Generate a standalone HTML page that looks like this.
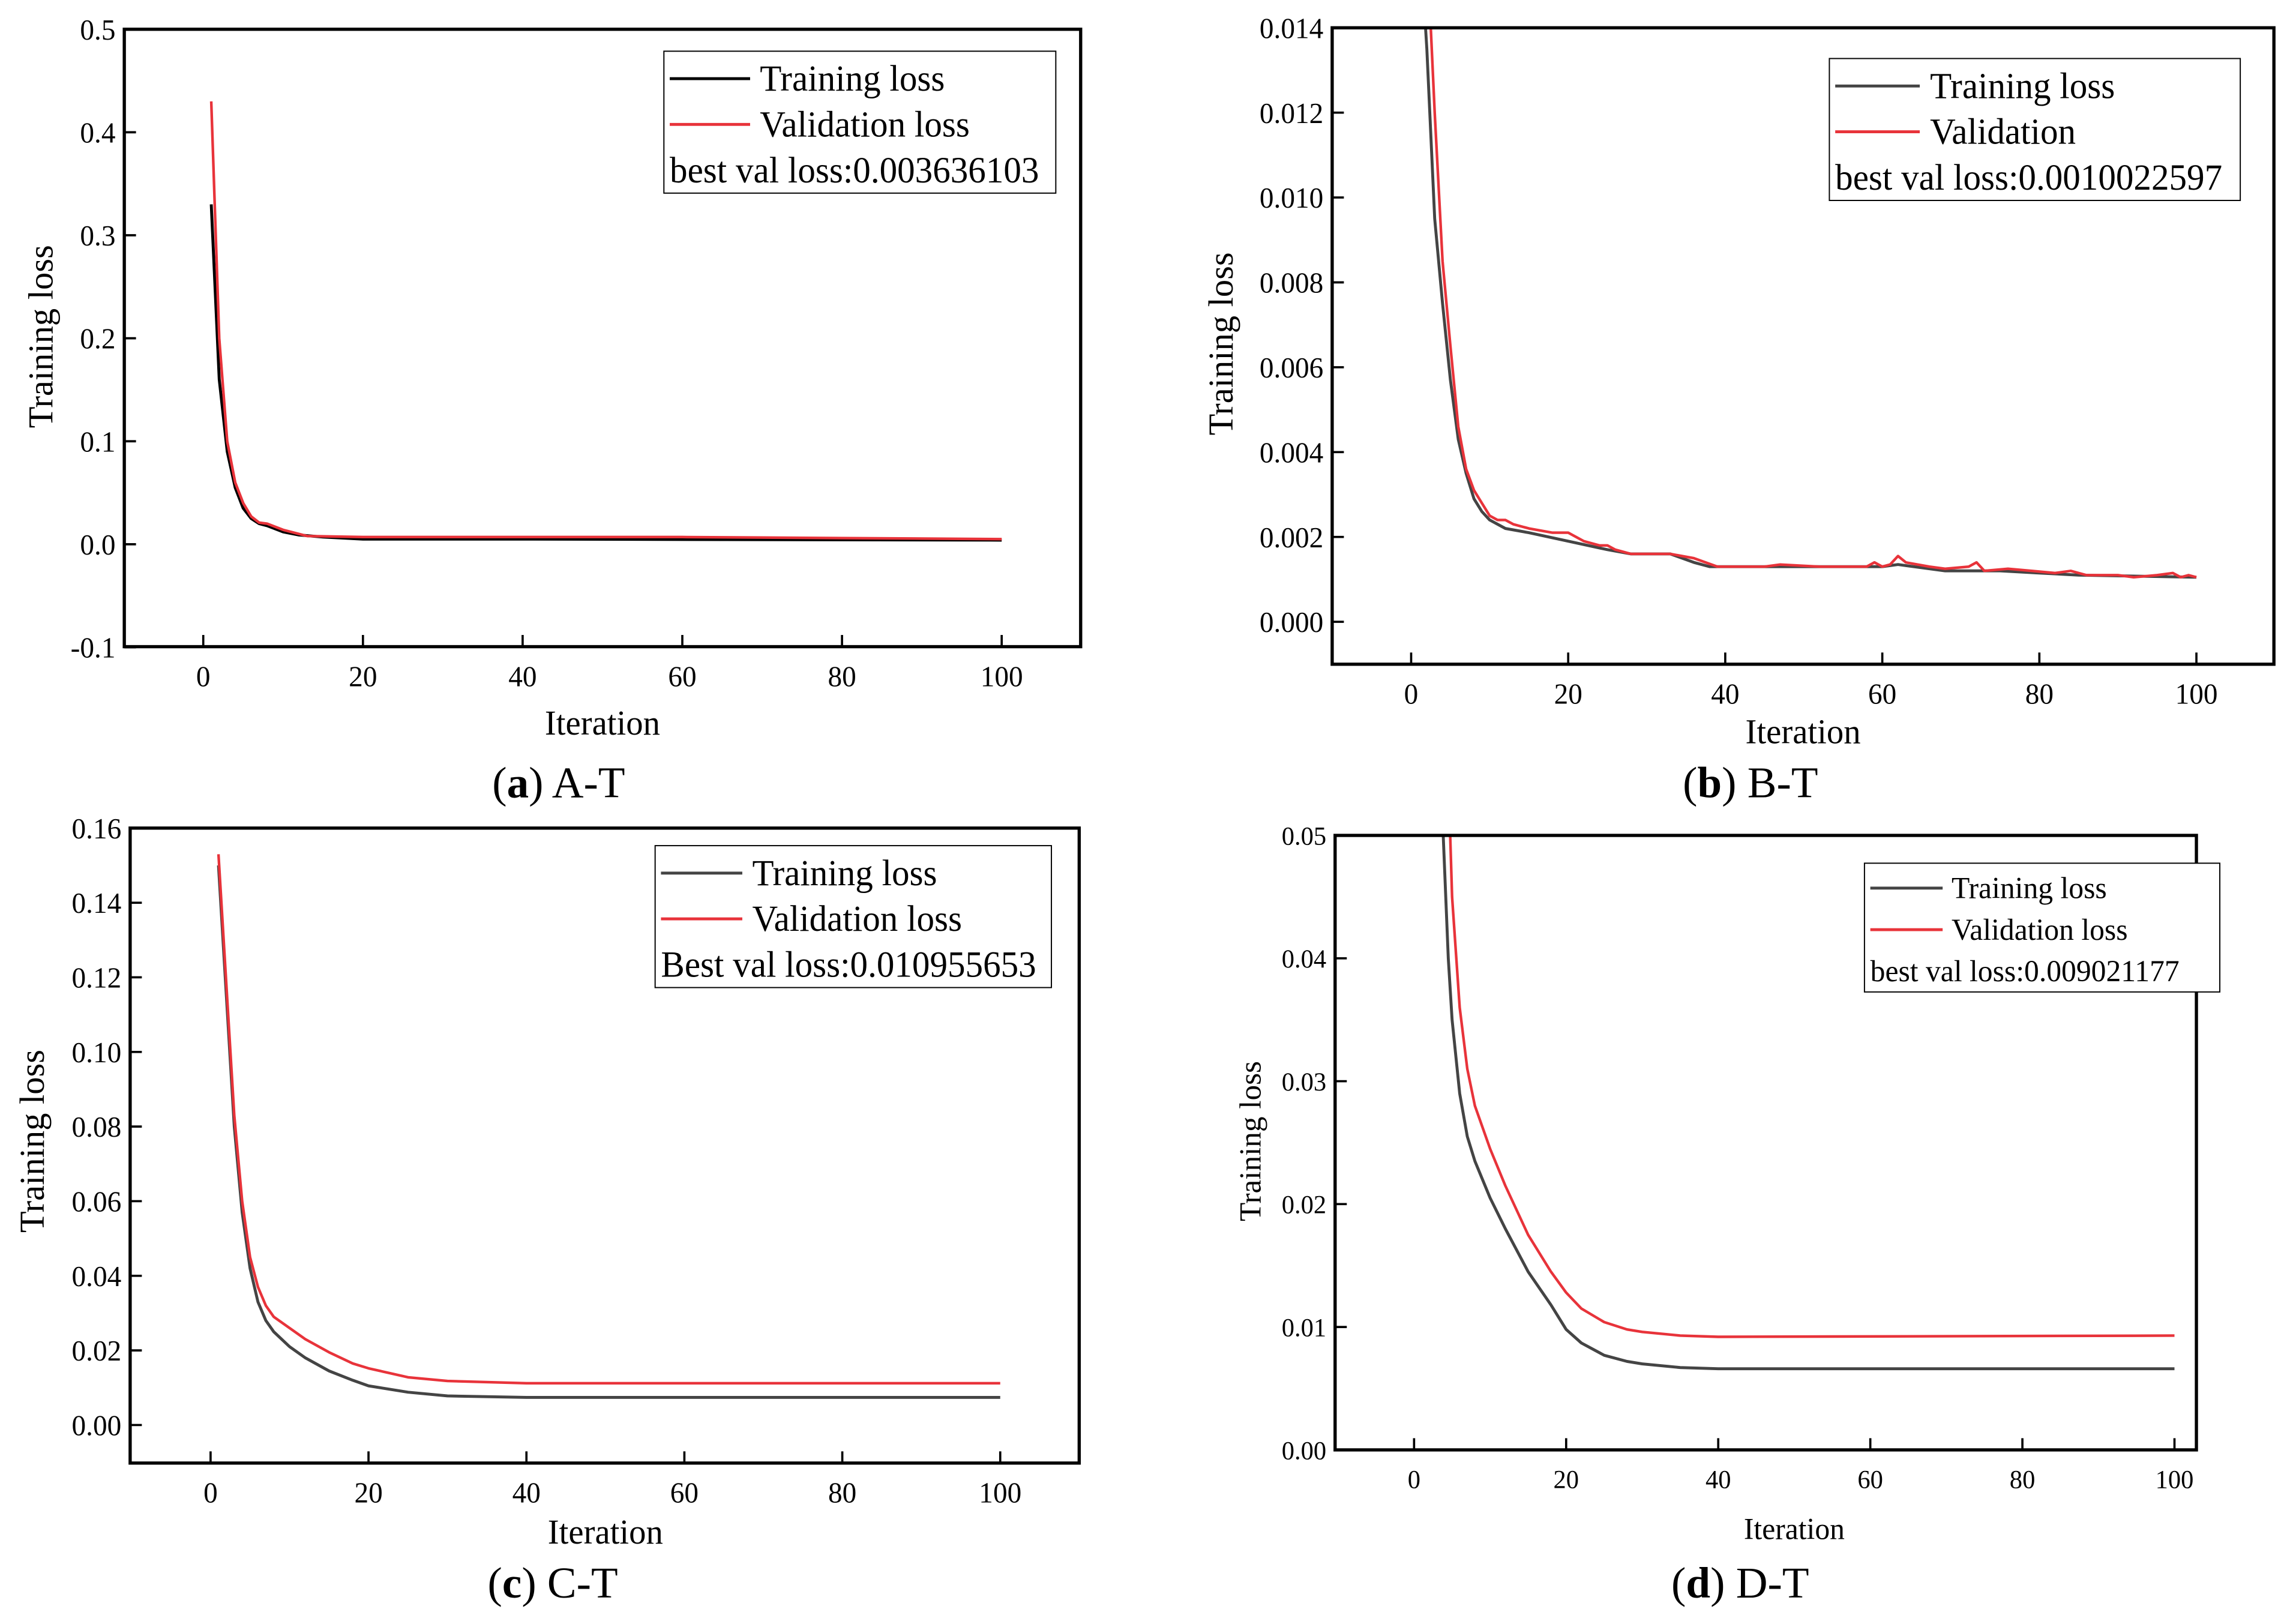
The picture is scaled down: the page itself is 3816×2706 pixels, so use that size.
<!DOCTYPE html>
<html><head><meta charset="utf-8"><style>
html,body{margin:0;padding:0;background:#fff;}
svg{display:block;}
text{font-family:"Liberation Serif",serif;fill:#000;}
</style></head><body>
<svg id="fig" width="3816" height="2706" viewBox="0 0 1566 1110" preserveAspectRatio="none" xmlns="http://www.w3.org/2000/svg"></svg>
<script>
// Panel A data
const aTrainX=[1,2,3,4,5,6,7,8,9,10,12,15,20,40,100];
const aTrainY=[0.33,0.16,0.09,0.055,0.035,0.025,0.02,0.018,0.015,0.012,0.009,0.007,0.005,0.005,0.004];
const aValX=[1,2,3,4,5,6,7,8,10,13,20,60,100];
const aValY=[0.43,0.2,0.1,0.06,0.04,0.027,0.021,0.02,0.014,0.008,0.007,0.007,0.005];
const aYTicks=[-0.1,0,0.1,0.2,0.3,0.4,0.5];
const aYLabels=["-0.1","0.0","0.1","0.2","0.3","0.4","0.5"];
// Panel B data
const bTrainX=[1,2,3,4,5,6,7,8,9,10,12,15,20,25,28,33,36,38,45,55,60,62,68,75,80,85,100];
const bTrainY=[0.0165,0.0135,0.0095,0.0075,0.0057,0.0043,0.0035,0.0029,0.0026,0.0024,0.0022,0.0021,0.0019,0.0017,0.0016,0.0016,0.0014,0.0013,0.0013,0.0013,0.0013,0.00135,0.0012,0.0012,0.00115,0.0011,0.00105];
const bValX=[2,3,4,5,6,7,8,9,10,11,12,13,15,18,20,21,22,24,25,26,28,33,36,39,45,47,52,56,58,59,60,61,62,63,66,68,71,72,73,76,79,82,84,86,90,92,95,97,98,99,100];
const bValY=[0.016,0.012,0.0085,0.0065,0.0046,0.0036,0.0031,0.0028,0.0025,0.0024,0.0024,0.0023,0.0022,0.0021,0.0021,0.002,0.0019,0.0018,0.0018,0.0017,0.0016,0.0016,0.0015,0.0013,0.0013,0.00135,0.0013,0.0013,0.0013,0.0014,0.0013,0.00135,0.00155,0.0014,0.0013,0.00125,0.0013,0.0014,0.0012,0.00125,0.0012,0.00115,0.0012,0.0011,0.0011,0.00105,0.0011,0.00115,0.00105,0.0011,0.00105];
const bYTicks=[0,0.002,0.004,0.006,0.008,0.010,0.012,0.014];
const bYLabels=["0.000","0.002","0.004","0.006","0.008","0.010","0.012","0.014"];
// Panel C data
const cTrainX=[1,2,3,4,5,6,7,8,10,12,15,18,20,25,30,40,100];
const cTrainY=[0.15,0.115,0.08,0.057,0.042,0.033,0.028,0.025,0.021,0.018,0.0145,0.012,0.0105,0.0088,0.0078,0.0074,0.0074];
const cValX=[1,2,3,4,5,6,7,8,10,12,15,18,20,25,30,40,100];
const cValY=[0.153,0.118,0.083,0.06,0.045,0.037,0.032,0.029,0.026,0.023,0.0195,0.0165,0.0152,0.0128,0.0118,0.0112,0.0112];
const cYTicks=[0,0.02,0.04,0.06,0.08,0.10,0.12,0.14,0.16];
const cYLabels=["0.00","0.02","0.04","0.06","0.08","0.10","0.12","0.14","0.16"];
// Panel D data
const dTrainX=[3.5,4.5,5,6,7,8,10,12,15,18,20,22,25,28,30,35,40,100];
const dTrainY=[0.055,0.04,0.035,0.029,0.0255,0.0235,0.0205,0.018,0.0145,0.0118,0.0098,0.0087,0.0077,0.0072,0.007,0.0067,0.0066,0.0066];
const dValX=[4.5,5,6,7,8,10,12,15,18,20,22,25,28,30,35,40,100];
const dValY=[0.055,0.045,0.036,0.031,0.028,0.0245,0.0215,0.0175,0.0145,0.0128,0.0115,0.0104,0.0098,0.0096,0.0093,0.0092,0.0093];
const dYTicks=[0,0.01,0.02,0.03,0.04,0.05];
const dYLabels=["0.00","0.01","0.02","0.03","0.04","0.05"];
const xTicks=[0,20,40,60,80,100];
const xLabels=["0","20","40","60","80","100"];

const NS="http://www.w3.org/2000/svg";
const svg=document.getElementById('fig');
function mk(tag,attrs,parent){const e=document.createElementNS(NS,tag);for(const k in attrs)e.setAttribute(k,attrs[k]);(parent||svg).appendChild(e);return e;}
function txt(parent,x,y,s,size,anchor,sx,rot){
  const g=mk('g',{transform:`translate(${x},${y})`+(rot?` rotate(${rot})`:'')+` scale(${sx||0.97},1)`},parent);
  const t=mk('text',{x:0,y:0,'font-size':size,'text-anchor':anchor||'start'},g);
  t.textContent=s;return t;}

function panel(cfg){
  const g=mk('g',{});
  
  
  const {L,R,T,B,x0,x100,yv0,yp0,yv1,yp1}=cfg;
  const X=v=>x0+(x100-x0)*v/100;
  const Y=v=>yp0+(yp1-yp0)*(v-yv0)/(yv1-yv0);
  const clip=mk('clipPath',{id:'clip'+cfg.id},g);
  mk('rect',{x:L,y:T,width:R-L,height:B-T},clip);
  function line(xs,ys,color,name,w){
    const p=mk('polyline',{points:xs.map((x,i)=>X(x).toFixed(2)+','+Y(ys[i]).toFixed(2)).join(' '),fill:'none',stroke:color,'stroke-width':w,'stroke-linejoin':'round','clip-path':`url(#clip${cfg.id})`},g);
    
    
  }
  line(cfg.tx,cfg.ty,cfg.tc,'training-loss-line',2);
  line(cfg.vx,cfg.vy,'#e8333a','validation-loss-line',1.8);
  const fr=mk('rect',{x:L,y:T,width:R-L,height:B-T,fill:'none',stroke:'#000','stroke-width':2.2},g);
  
  
  xTicks.forEach((v,i)=>{
    mk('line',{x1:X(v),x2:X(v),y1:B,y2:B-8,stroke:'#000','stroke-width':1.5},g);
    const t=txt(g,X(v),cfg.xly,xLabels[i],cfg.tf,'middle');
    
    
  });
  cfg.yt.forEach((v,i)=>{
    mk('line',{x1:L,x2:L+8,y1:Y(v),y2:Y(v),stroke:'#000','stroke-width':1.5},g);
    const t=txt(g,L-6,Y(v)+cfg.tf*0.35,cfg.yl[i],cfg.tf,'end');
    
    
  });
  const xt=txt(g,cfg.xtx,cfg.xty,'Iteration',cfg.af,'middle');
  
  
  const yt=txt(g,cfg.ytx,cfg.yty,'Training loss',cfg.af,'middle',1.0,-90);
  
  
  const lg=mk('g',{},g);
  
  
  const [lx,ly,lw,lh]=cfg.leg;
  mk('rect',{x:lx,y:ly,width:lw,height:lh,fill:'#fff',stroke:'#000','stroke-width':0.8},lg);
  const rh=lh/3.1;
  mk('line',{x1:lx+4,x2:lx+lw*0.22,y1:ly+rh*0.6,y2:ly+rh*0.6,stroke:cfg.tc,'stroke-width':2},lg);
  mk('line',{x1:lx+4,x2:lx+lw*0.22,y1:ly+rh*1.6,y2:ly+rh*1.6,stroke:'#e8333a','stroke-width':2},lg);
  const e1=txt(lg,lx+lw*0.245,ly+rh*0.6+cfg.lf*0.33,'Training loss',cfg.lf,'start');
  
  
  const e2=txt(lg,lx+lw*0.245,ly+rh*1.6+cfg.lf*0.33,cfg.vname,cfg.lf,'start');
  
  
  const e3=txt(lg,lx+4,ly+rh*2.6+cfg.lf*0.33,cfg.best,cfg.lf,'start');
  
  
  const cg=mk('g',{transform:`translate(${cfg.capx},${cfg.capy}) scale(1,1)`},g);
  const cap=mk('text',{x:0,y:0,'font-size':30,'text-anchor':'middle'},cg);
  
  
  cap.innerHTML=`(<tspan font-weight="bold">${cfg.id}</tspan>) ${cfg.cap}`;
}

panel({id:'a',cap:'A-T',L:85,R:739,T:20,B:442,x0:139,x100:685,yv0:0,yp0:372,yv1:0.5,yp1:20,
  tx:aTrainX,ty:aTrainY,vx:aValX,vy:aValY,tc:'#000',yt:aYTicks,yl:aYLabels,tf:20,af:24,lf:25,
  xly:469,xtx:412,xty:502,ytx:36,yty:230,leg:[454,35,268,97],vname:'Validation loss',best:'best val loss:0.003636103',capx:382,capy:545});
panel({id:'b',cap:'B-T',L:911,R:1555,T:19,B:454,x0:965,x100:1502,yv0:0,yp0:425,yv1:0.014,yp1:19,
  tx:bTrainX,ty:bTrainY,vx:bValX,vy:bValY,tc:'#444',yt:bYTicks,yl:bYLabels,tf:20,af:24,lf:25,
  xly:481,xtx:1233,xty:508,ytx:843,yty:235,leg:[1251,40,281,97],vname:'Validation',best:'best val loss:0.0010022597',capx:1197,capy:545});
panel({id:'c',cap:'C-T',L:89,R:738,T:566,B:1000,x0:144,x100:684,yv0:0,yp0:974,yv1:0.16,yp1:566,
  tx:cTrainX,ty:cTrainY,vx:cValX,vy:cValY,tc:'#444',yt:cYTicks,yl:cYLabels,tf:20,af:24,lf:25,
  xly:1027,xtx:414,xty:1055,ytx:30,yty:780,leg:[448,578,271,97],vname:'Validation loss',best:'Best val loss:0.010955653',capx:378,capy:1092});
panel({id:'d',cap:'D-T',L:913,R:1502,T:571,B:991,x0:967,x100:1487,yv0:0,yp0:991,yv1:0.05,yp1:571,
  tx:dTrainX,ty:dTrainY,vx:dValX,vy:dValY,tc:'#444',yt:dYTicks,yl:dYLabels,tf:18,af:21,lf:21,
  xly:1017,xtx:1227,xty:1052,ytx:862,yty:780,leg:[1275,590,243,88],vname:'Validation loss',best:'best val loss:0.009021177',capx:1190,capy:1092});
</script>
</body></html>
